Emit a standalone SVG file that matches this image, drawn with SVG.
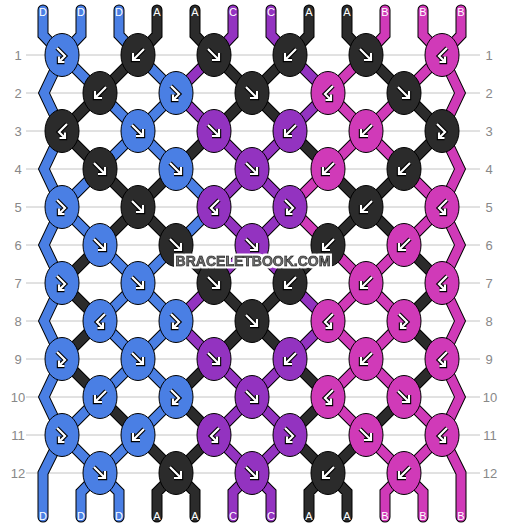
<svg xmlns="http://www.w3.org/2000/svg" width="506" height="528" viewBox="0 0 506 528">
<style>
.grid line{stroke:#c4c4c4;stroke-width:1}
.rn{font-family:"Liberation Sans",Arial,sans-serif;font-size:13px;fill:#888;text-anchor:middle}
.sl{font-family:"Liberation Sans",Arial,sans-serif;font-size:11px;fill:#fff;text-anchor:middle}
.so{fill:none;stroke:#000;stroke-width:11;stroke-linecap:round;stroke-linejoin:miter}
.sD,.sA,.sC,.sB{fill:none;stroke-width:9;stroke-linecap:round;stroke-linejoin:miter}
.sD{stroke:#4a7fe4}.sA{stroke:#2b2b2b}.sC{stroke:#9333c0}.sB{stroke:#d03ab8}
.k ellipse{stroke:#000;stroke-width:1}
.kD ellipse{fill:#4a7fe4}.kA ellipse{fill:#2b2b2b}.kC ellipse{fill:#9333c0}.kB ellipse{fill:#d03ab8}
.go{fill:none;stroke:#000;stroke-width:4.4;stroke-linejoin:miter}
.gi{fill:none;stroke:#fff;stroke-width:2.2;stroke-linejoin:miter}
.wm{font-family:"Liberation Sans",Arial,sans-serif;font-weight:bold;font-size:14px;fill:#777;stroke:#2a2a2a;stroke-width:0.9;text-anchor:middle}
</style>
<defs>
<path id="gf" d="M-6,-6 L5,5 M5,-2 L5,5 L-2,5"/>
<path id="gb" d="M6,-6 L-5,5 M-5,-2 L-5,5 L2,5"/>
<path id="gfb" d="M-5,-7 L3,1 L-3,7 M-3,1.5 L-3,7 L2.5,7"/>
<path id="gbf" d="M5,-7 L-3,1 L3,7 M3,1.5 L3,7 L-2.5,7"/>
<path id="pD" d="M43 10V35L62 55L44 93L62 131L44 169L62 207L44 245L62 283L44 321L62 359L44 397L62 435L43 473V517 M81 10V35L62 55 M119 10V35L138 55 M62 55L100 93 M138 55L176 93 M100 93L138 131 M176 93L138 131 M138 131L100 169 M138 131L176 169 M100 169L62 207 M176 169L214 207 M62 207L100 245 M214 207L176 245 M100 245L138 283 M176 245L138 283 M138 283L100 321 M138 283L176 321 M100 321L138 359 M176 321L138 359 M138 359L100 397 M138 359L176 397 M100 397L62 435 M176 397L138 435 M62 435L100 473 M138 435L100 473 M100 473L81 492V517 M100 473L119 492V517"/>
<path id="pA" d="M157 10V35L138 55 M195 10V35L214 55 M309 10V35L290 55 M347 10V35L366 55 M138 55L100 93 M214 55L252 93 M290 55L252 93 M366 55L404 93 M100 93L62 131 M252 93L214 131 M252 93L290 131 M404 93L442 131 M62 131L100 169 M214 131L176 169 M290 131L328 169 M442 131L404 169 M100 169L138 207 M176 169L138 207 M328 169L366 207 M404 169L366 207 M138 207L100 245 M138 207L176 245 M366 207L328 245 M366 207L404 245 M100 245L62 283 M176 245L214 283 M328 245L290 283 M404 245L442 283 M62 283L100 321 M214 283L252 321 M290 283L252 321 M442 283L404 321 M100 321L62 359 M252 321L214 359 M252 321L290 359 M404 321L442 359 M62 359L100 397 M214 359L176 397 M290 359L328 397 M442 359L404 397 M100 397L138 435 M176 397L214 435 M328 397L290 435 M404 397L366 435 M138 435L176 473 M214 435L176 473 M290 435L328 473 M366 435L328 473 M176 473L157 492V517 M176 473L195 492V517 M328 473L309 492V517 M328 473L347 492V517"/>
<path id="pC" d="M233 10V35L214 55 M271 10V35L290 55 M214 55L176 93 M290 55L328 93 M176 93L214 131 M328 93L290 131 M214 131L252 169 M290 131L252 169 M252 169L214 207 M252 169L290 207 M214 207L252 245 M290 207L252 245 M252 245L214 283 M252 245L290 283 M214 283L176 321 M290 283L328 321 M176 321L214 359 M328 321L290 359 M214 359L252 397 M290 359L252 397 M252 397L214 435 M252 397L290 435 M214 435L252 473 M290 435L252 473 M252 473L233 492V517 M252 473L271 492V517"/>
<path id="pB" d="M461 10V35L442 55L460 93L442 131L460 169L442 207L460 245L442 283L460 321L442 359L460 397L442 435L461 473V517 M385 10V35L366 55 M423 10V35L442 55 M366 55L328 93 M442 55L404 93 M328 93L366 131 M404 93L366 131 M366 131L328 169 M366 131L404 169 M328 169L290 207 M404 169L442 207 M290 207L328 245 M442 207L404 245 M328 245L366 283 M404 245L366 283 M366 283L328 321 M366 283L404 321 M328 321L366 359 M404 321L366 359 M366 359L328 397 M366 359L404 397 M328 397L366 435 M404 397L442 435 M366 435L404 473 M442 435L404 473 M404 473L385 492V517 M404 473L423 492V517"/>
<filter id="halo" x="-10%" y="-40%" width="120%" height="180%">
<feMorphology in="SourceAlpha" operator="dilate" radius="1.5" result="d"/>
<feFlood flood-color="#ffffff"/>
<feComposite in2="d" operator="in"/>
<feMerge><feMergeNode/><feMergeNode in="SourceGraphic"/></feMerge>
</filter>
</defs>
<rect width="506" height="528" fill="#fff"/>
<g class="grid">
<line x1="26" y1="55" x2="480" y2="55"/><line x1="26" y1="93" x2="480" y2="93"/><line x1="26" y1="131" x2="480" y2="131"/><line x1="26" y1="169" x2="480" y2="169"/><line x1="26" y1="207" x2="480" y2="207"/><line x1="26" y1="245" x2="480" y2="245"/><line x1="26" y1="283" x2="480" y2="283"/><line x1="26" y1="321" x2="480" y2="321"/><line x1="26" y1="359" x2="480" y2="359"/><line x1="26" y1="397" x2="480" y2="397"/><line x1="26" y1="435" x2="480" y2="435"/><line x1="26" y1="473" x2="480" y2="473"/>
</g>
<g id="row-numbers">
<text class="rn" x="18" y="59.5">1</text><text class="rn" x="18" y="97.5">2</text><text class="rn" x="18" y="135.5">3</text><text class="rn" x="18" y="173.5">4</text><text class="rn" x="18" y="211.5">5</text><text class="rn" x="18" y="249.5">6</text><text class="rn" x="18" y="287.5">7</text><text class="rn" x="18" y="325.5">8</text><text class="rn" x="18" y="363.5">9</text><text class="rn" x="18" y="401.5">10</text><text class="rn" x="18" y="439.5">11</text><text class="rn" x="18" y="477.5">12</text>
<text class="rn" x="489" y="59.5">1</text><text class="rn" x="489" y="97.5">2</text><text class="rn" x="489" y="135.5">3</text><text class="rn" x="489" y="173.5">4</text><text class="rn" x="489" y="211.5">5</text><text class="rn" x="489" y="249.5">6</text><text class="rn" x="489" y="287.5">7</text><text class="rn" x="489" y="325.5">8</text><text class="rn" x="489" y="363.5">9</text><text class="rn" x="490" y="401.5">10</text><text class="rn" x="490" y="439.5">11</text><text class="rn" x="490" y="477.5">12</text>
</g>
<g id="connectors">
<use href="#pD" class="so"/><use href="#pA" class="so"/><use href="#pC" class="so"/><use href="#pB" class="so"/>
<use href="#pD" class="sD"/><use href="#pA" class="sA"/><use href="#pC" class="sC"/><use href="#pB" class="sB"/>
</g>
<g id="strand-labels">
<text class="sl" x="43" y="16">D</text><text class="sl" x="81" y="16">D</text><text class="sl" x="119" y="16">D</text><text class="sl" x="157" y="16">A</text><text class="sl" x="195" y="16">A</text><text class="sl" x="233" y="16">C</text><text class="sl" x="271" y="16">C</text><text class="sl" x="309" y="16">A</text><text class="sl" x="347" y="16">A</text><text class="sl" x="385" y="16">B</text><text class="sl" x="423" y="16">B</text><text class="sl" x="461" y="16">B</text>
<text class="sl" x="43" y="520">D</text><text class="sl" x="81" y="520">D</text><text class="sl" x="119" y="520">D</text><text class="sl" x="157" y="520">A</text><text class="sl" x="195" y="520">A</text><text class="sl" x="233" y="520">C</text><text class="sl" x="271" y="520">C</text><text class="sl" x="309" y="520">A</text><text class="sl" x="347" y="520">A</text><text class="sl" x="385" y="520">B</text><text class="sl" x="423" y="520">B</text><text class="sl" x="461" y="520">B</text>
</g>
<g id="knots">
<g id="k1-1" class="k kD" transform="translate(62,55)"><ellipse rx="17" ry="21.5"/><use href="#gfb" class="go"/><use href="#gfb" class="gi"/></g>
<g id="k1-2" class="k kA" transform="translate(138,55)"><ellipse rx="17" ry="21.5"/><use href="#gb" class="go"/><use href="#gb" class="gi"/></g>
<g id="k1-3" class="k kA" transform="translate(214,55)"><ellipse rx="17" ry="21.5"/><use href="#gf" class="go"/><use href="#gf" class="gi"/></g>
<g id="k1-4" class="k kA" transform="translate(290,55)"><ellipse rx="17" ry="21.5"/><use href="#gb" class="go"/><use href="#gb" class="gi"/></g>
<g id="k1-5" class="k kA" transform="translate(366,55)"><ellipse rx="17" ry="21.5"/><use href="#gf" class="go"/><use href="#gf" class="gi"/></g>
<g id="k1-6" class="k kB" transform="translate(442,55)"><ellipse rx="17" ry="21.5"/><use href="#gbf" class="go"/><use href="#gbf" class="gi"/></g>
<g id="k2-1" class="k kA" transform="translate(100,93)"><ellipse rx="17" ry="21.5"/><use href="#gb" class="go"/><use href="#gb" class="gi"/></g>
<g id="k2-2" class="k kD" transform="translate(176,93)"><ellipse rx="17" ry="21.5"/><use href="#gfb" class="go"/><use href="#gfb" class="gi"/></g>
<g id="k2-3" class="k kA" transform="translate(252,93)"><ellipse rx="17" ry="21.5"/><use href="#gf" class="go"/><use href="#gf" class="gi"/></g>
<g id="k2-4" class="k kB" transform="translate(328,93)"><ellipse rx="17" ry="21.5"/><use href="#gbf" class="go"/><use href="#gbf" class="gi"/></g>
<g id="k2-5" class="k kA" transform="translate(404,93)"><ellipse rx="17" ry="21.5"/><use href="#gf" class="go"/><use href="#gf" class="gi"/></g>
<g id="k3-1" class="k kA" transform="translate(62,131)"><ellipse rx="17" ry="21.5"/><use href="#gbf" class="go"/><use href="#gbf" class="gi"/></g>
<g id="k3-2" class="k kD" transform="translate(138,131)"><ellipse rx="17" ry="21.5"/><use href="#gf" class="go"/><use href="#gf" class="gi"/></g>
<g id="k3-3" class="k kC" transform="translate(214,131)"><ellipse rx="17" ry="21.5"/><use href="#gf" class="go"/><use href="#gf" class="gi"/></g>
<g id="k3-4" class="k kC" transform="translate(290,131)"><ellipse rx="17" ry="21.5"/><use href="#gb" class="go"/><use href="#gb" class="gi"/></g>
<g id="k3-5" class="k kB" transform="translate(366,131)"><ellipse rx="17" ry="21.5"/><use href="#gb" class="go"/><use href="#gb" class="gi"/></g>
<g id="k3-6" class="k kA" transform="translate(442,131)"><ellipse rx="17" ry="21.5"/><use href="#gfb" class="go"/><use href="#gfb" class="gi"/></g>
<g id="k4-1" class="k kA" transform="translate(100,169)"><ellipse rx="17" ry="21.5"/><use href="#gf" class="go"/><use href="#gf" class="gi"/></g>
<g id="k4-2" class="k kD" transform="translate(176,169)"><ellipse rx="17" ry="21.5"/><use href="#gf" class="go"/><use href="#gf" class="gi"/></g>
<g id="k4-3" class="k kC" transform="translate(252,169)"><ellipse rx="17" ry="21.5"/><use href="#gf" class="go"/><use href="#gf" class="gi"/></g>
<g id="k4-4" class="k kB" transform="translate(328,169)"><ellipse rx="17" ry="21.5"/><use href="#gb" class="go"/><use href="#gb" class="gi"/></g>
<g id="k4-5" class="k kA" transform="translate(404,169)"><ellipse rx="17" ry="21.5"/><use href="#gb" class="go"/><use href="#gb" class="gi"/></g>
<g id="k5-1" class="k kD" transform="translate(62,207)"><ellipse rx="17" ry="21.5"/><use href="#gfb" class="go"/><use href="#gfb" class="gi"/></g>
<g id="k5-2" class="k kA" transform="translate(138,207)"><ellipse rx="17" ry="21.5"/><use href="#gf" class="go"/><use href="#gf" class="gi"/></g>
<g id="k5-3" class="k kC" transform="translate(214,207)"><ellipse rx="17" ry="21.5"/><use href="#gbf" class="go"/><use href="#gbf" class="gi"/></g>
<g id="k5-4" class="k kC" transform="translate(290,207)"><ellipse rx="17" ry="21.5"/><use href="#gfb" class="go"/><use href="#gfb" class="gi"/></g>
<g id="k5-5" class="k kA" transform="translate(366,207)"><ellipse rx="17" ry="21.5"/><use href="#gb" class="go"/><use href="#gb" class="gi"/></g>
<g id="k5-6" class="k kB" transform="translate(442,207)"><ellipse rx="17" ry="21.5"/><use href="#gbf" class="go"/><use href="#gbf" class="gi"/></g>
<g id="k6-1" class="k kD" transform="translate(100,245)"><ellipse rx="17" ry="21.5"/><use href="#gf" class="go"/><use href="#gf" class="gi"/></g>
<g id="k6-2" class="k kA" transform="translate(176,245)"><ellipse rx="17" ry="21.5"/><use href="#gf" class="go"/><use href="#gf" class="gi"/></g>
<g id="k6-3" class="k kC" transform="translate(252,245)"><ellipse rx="17" ry="21.5"/><use href="#gf" class="go"/><use href="#gf" class="gi"/></g>
<g id="k6-4" class="k kA" transform="translate(328,245)"><ellipse rx="17" ry="21.5"/><use href="#gb" class="go"/><use href="#gb" class="gi"/></g>
<g id="k6-5" class="k kB" transform="translate(404,245)"><ellipse rx="17" ry="21.5"/><use href="#gb" class="go"/><use href="#gb" class="gi"/></g>
<g id="k7-1" class="k kD" transform="translate(62,283)"><ellipse rx="17" ry="21.5"/><use href="#gfb" class="go"/><use href="#gfb" class="gi"/></g>
<g id="k7-2" class="k kD" transform="translate(138,283)"><ellipse rx="17" ry="21.5"/><use href="#gf" class="go"/><use href="#gf" class="gi"/></g>
<g id="k7-3" class="k kA" transform="translate(214,283)"><ellipse rx="17" ry="21.5"/><use href="#gf" class="go"/><use href="#gf" class="gi"/></g>
<g id="k7-4" class="k kA" transform="translate(290,283)"><ellipse rx="17" ry="21.5"/><use href="#gb" class="go"/><use href="#gb" class="gi"/></g>
<g id="k7-5" class="k kB" transform="translate(366,283)"><ellipse rx="17" ry="21.5"/><use href="#gb" class="go"/><use href="#gb" class="gi"/></g>
<g id="k7-6" class="k kB" transform="translate(442,283)"><ellipse rx="17" ry="21.5"/><use href="#gbf" class="go"/><use href="#gbf" class="gi"/></g>
<g id="k8-1" class="k kD" transform="translate(100,321)"><ellipse rx="17" ry="21.5"/><use href="#gbf" class="go"/><use href="#gbf" class="gi"/></g>
<g id="k8-2" class="k kD" transform="translate(176,321)"><ellipse rx="17" ry="21.5"/><use href="#gfb" class="go"/><use href="#gfb" class="gi"/></g>
<g id="k8-3" class="k kA" transform="translate(252,321)"><ellipse rx="17" ry="21.5"/><use href="#gf" class="go"/><use href="#gf" class="gi"/></g>
<g id="k8-4" class="k kB" transform="translate(328,321)"><ellipse rx="17" ry="21.5"/><use href="#gbf" class="go"/><use href="#gbf" class="gi"/></g>
<g id="k8-5" class="k kB" transform="translate(404,321)"><ellipse rx="17" ry="21.5"/><use href="#gfb" class="go"/><use href="#gfb" class="gi"/></g>
<g id="k9-1" class="k kD" transform="translate(62,359)"><ellipse rx="17" ry="21.5"/><use href="#gfb" class="go"/><use href="#gfb" class="gi"/></g>
<g id="k9-2" class="k kD" transform="translate(138,359)"><ellipse rx="17" ry="21.5"/><use href="#gf" class="go"/><use href="#gf" class="gi"/></g>
<g id="k9-3" class="k kC" transform="translate(214,359)"><ellipse rx="17" ry="21.5"/><use href="#gf" class="go"/><use href="#gf" class="gi"/></g>
<g id="k9-4" class="k kC" transform="translate(290,359)"><ellipse rx="17" ry="21.5"/><use href="#gb" class="go"/><use href="#gb" class="gi"/></g>
<g id="k9-5" class="k kB" transform="translate(366,359)"><ellipse rx="17" ry="21.5"/><use href="#gb" class="go"/><use href="#gb" class="gi"/></g>
<g id="k9-6" class="k kB" transform="translate(442,359)"><ellipse rx="17" ry="21.5"/><use href="#gbf" class="go"/><use href="#gbf" class="gi"/></g>
<g id="k10-1" class="k kD" transform="translate(100,397)"><ellipse rx="17" ry="21.5"/><use href="#gb" class="go"/><use href="#gb" class="gi"/></g>
<g id="k10-2" class="k kD" transform="translate(176,397)"><ellipse rx="17" ry="21.5"/><use href="#gfb" class="go"/><use href="#gfb" class="gi"/></g>
<g id="k10-3" class="k kC" transform="translate(252,397)"><ellipse rx="17" ry="21.5"/><use href="#gf" class="go"/><use href="#gf" class="gi"/></g>
<g id="k10-4" class="k kB" transform="translate(328,397)"><ellipse rx="17" ry="21.5"/><use href="#gbf" class="go"/><use href="#gbf" class="gi"/></g>
<g id="k10-5" class="k kB" transform="translate(404,397)"><ellipse rx="17" ry="21.5"/><use href="#gf" class="go"/><use href="#gf" class="gi"/></g>
<g id="k11-1" class="k kD" transform="translate(62,435)"><ellipse rx="17" ry="21.5"/><use href="#gfb" class="go"/><use href="#gfb" class="gi"/></g>
<g id="k11-2" class="k kD" transform="translate(138,435)"><ellipse rx="17" ry="21.5"/><use href="#gb" class="go"/><use href="#gb" class="gi"/></g>
<g id="k11-3" class="k kC" transform="translate(214,435)"><ellipse rx="17" ry="21.5"/><use href="#gbf" class="go"/><use href="#gbf" class="gi"/></g>
<g id="k11-4" class="k kC" transform="translate(290,435)"><ellipse rx="17" ry="21.5"/><use href="#gfb" class="go"/><use href="#gfb" class="gi"/></g>
<g id="k11-5" class="k kB" transform="translate(366,435)"><ellipse rx="17" ry="21.5"/><use href="#gf" class="go"/><use href="#gf" class="gi"/></g>
<g id="k11-6" class="k kB" transform="translate(442,435)"><ellipse rx="17" ry="21.5"/><use href="#gbf" class="go"/><use href="#gbf" class="gi"/></g>
<g id="k12-1" class="k kD" transform="translate(100,473)"><ellipse rx="17" ry="21.5"/><use href="#gf" class="go"/><use href="#gf" class="gi"/></g>
<g id="k12-2" class="k kA" transform="translate(176,473)"><ellipse rx="17" ry="21.5"/><use href="#gf" class="go"/><use href="#gf" class="gi"/></g>
<g id="k12-3" class="k kC" transform="translate(252,473)"><ellipse rx="17" ry="21.5"/><use href="#gf" class="go"/><use href="#gf" class="gi"/></g>
<g id="k12-4" class="k kA" transform="translate(328,473)"><ellipse rx="17" ry="21.5"/><use href="#gb" class="go"/><use href="#gb" class="gi"/></g>
<g id="k12-5" class="k kB" transform="translate(404,473)"><ellipse rx="17" ry="21.5"/><use href="#gb" class="go"/><use href="#gb" class="gi"/></g>
</g>
<text class="wm" x="253" y="266" filter="url(#halo)">BRACELETBOOK.COM</text>
</svg>
